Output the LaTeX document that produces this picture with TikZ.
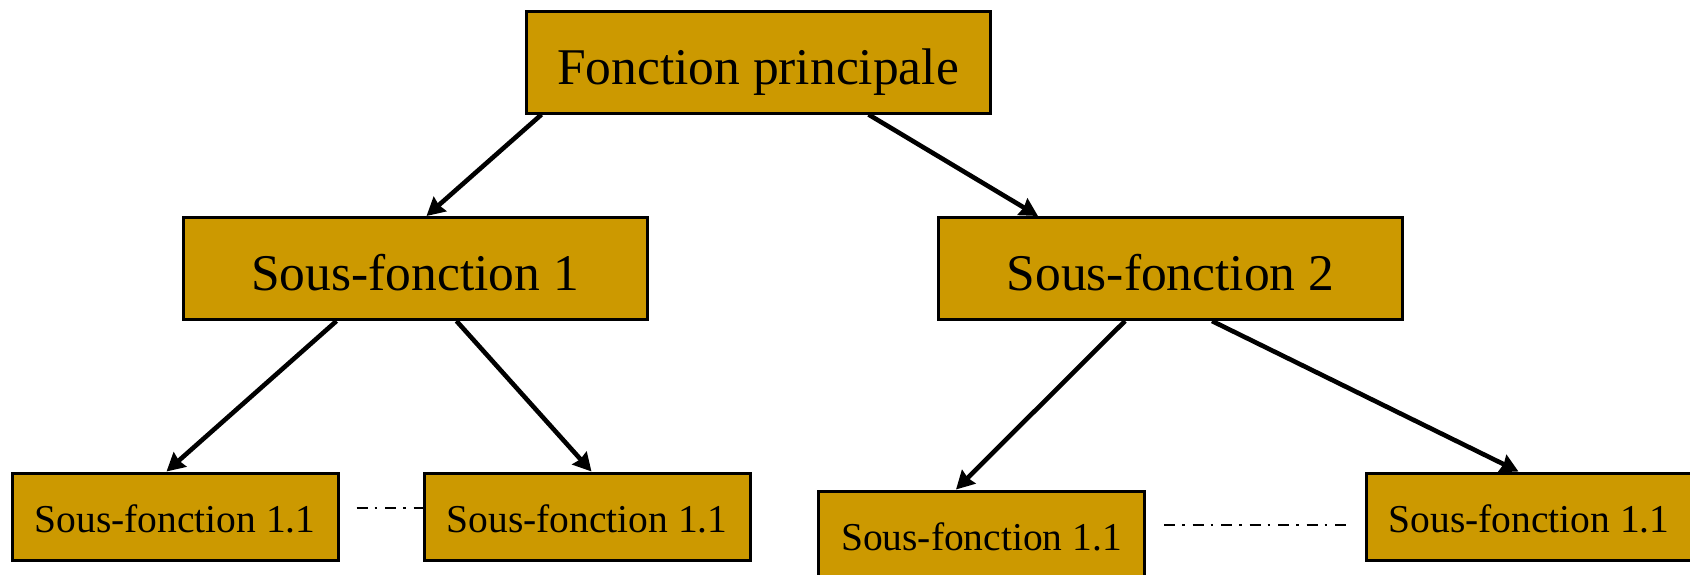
\documentclass[tikz,border=0pt]{standalone}
\usepackage{fontspec}
\setmainfont{Liberation Serif}
\usetikzlibrary{arrows.meta,calc}
\definecolor{boxgold}{HTML}{CC9900}
\tikzset{
  fbox/.style={draw=black, line width=3pt, fill=boxgold, inner sep=0pt, text=black},
  bigbox/.style={fbox, minimum width=464pt, minimum height=102pt,
    font=\fontsize{51.5}{60}\selectfont, text height=44pt, text depth=0pt},
  smallbox/.style={fbox, minimum width=326pt, minimum height=87pt,
    font=\fontsize{39.5}{46}\selectfont, text height=31pt, text depth=0pt},
  link/.style={line width=4.6pt, -{Stealth[length=18pt,width=19pt,inset=1.5pt]}},
  etc/.style={line width=2.4pt, dash pattern=on 11pt off 7pt on 2.5pt off 8pt}
}
\begin{document}
\begin{tikzpicture}[x=1pt,y=-1pt]
  \useasboundingbox (0,0) rectangle (1690,574);

  % boxes
  \node[bigbox] (main) at (758,62) {Fonction principale};
  \node[bigbox] (sf1) at (415,268.5) {Sous-fonction 1};
  \node[bigbox] (sf2) at (1170.5,268.5) {Sous-fonction 2};
  \node[smallbox] (a) at (175,516.5) {Sous-fonction 1.1};
  \node[smallbox] (b) at (587,516.5) {Sous-fonction 1.1};
  \node[smallbox] (c) at (981.5,534.5) {Sous-fonction 1.1};
  \node[smallbox] (d) at (1529,516.5) {Sous-fonction 1.1};

  % arrows
  \draw[link] ($(main.south west)+(17,0)$) -- ($(sf1.north west)+(245,0)$);
  \draw[link] ($(main.south west)+(344,0)$) -- ($(sf2.north west)+(101,0)$);
  \draw[link] ($(sf1.south west)+(155,0)$) -- ($(a.north west)+(156,0)$);
  \draw[link] ($(sf1.south west)+(275,0)$) -- ($(b.north west)+(169,0)$);
  \draw[link] ($(sf2.south west)+(188,0)$) -- ($(c.north west)+(139,0)$);
  \draw[link] ($(sf2.south west)+(275,0)$) -- ($(d.north west)+(154,0)$);

  % dash-dot continuation marks
  \draw[etc] ($(a.east)+(17,-8.5)$) -- ($(b.west)+(0,-8.5)$);
  \draw[etc] ($(c.east)+(18,-9.5)$) -- ($(d.west)+(-18,8.5)$);
\end{tikzpicture}
\end{document}
